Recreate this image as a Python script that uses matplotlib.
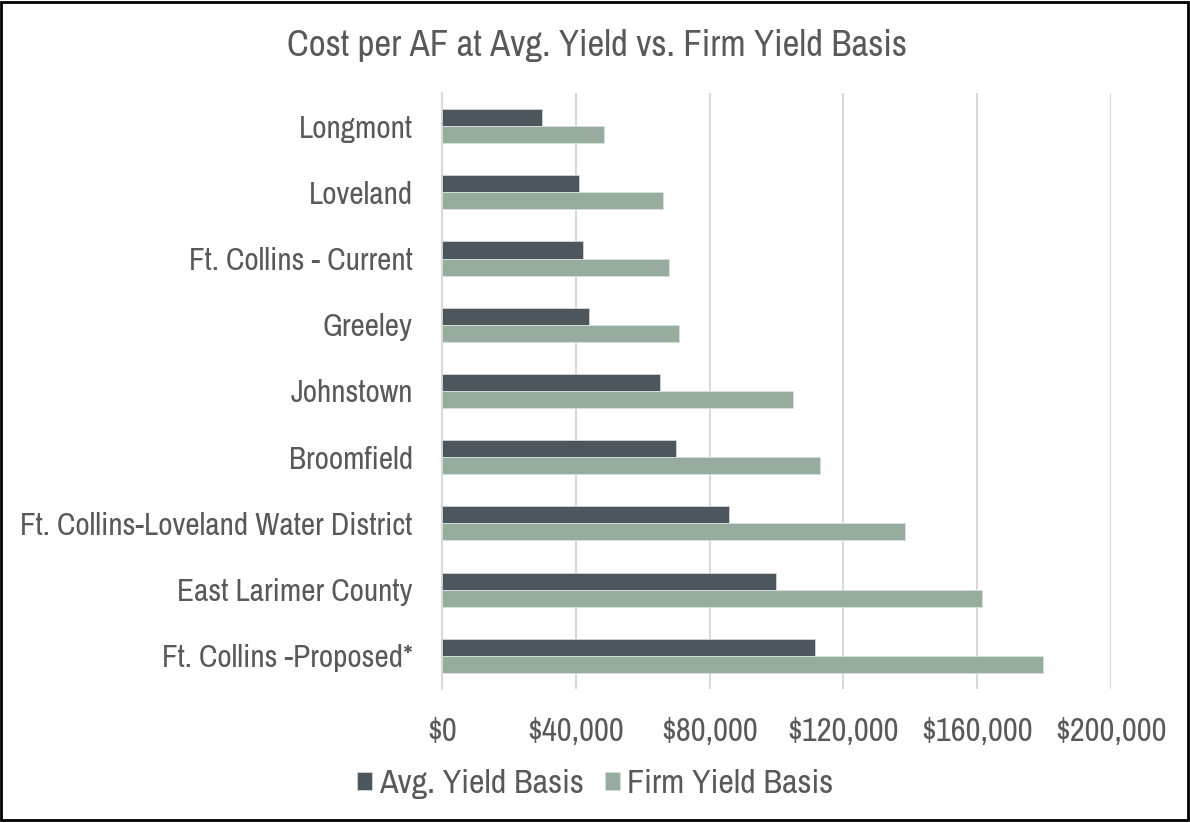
import matplotlib.pyplot as plt
import numpy as np
from matplotlib.patches import Rectangle
from matplotlib.ticker import FuncFormatter

plt.rcParams['font.family'] = ['Archivo Narrow', 'Liberation Sans', 'DejaVu Sans']

cities = ['Longmont', 'Loveland', 'Ft. Collins - Current', 'Greeley', 'Johnstown',
          'Broomfield', 'Ft. Collins-Loveland Water District', 'East Larimer County',
          'Ft. Collins -Proposed*']
avg_yield = [29800, 40900, 42300, 43900, 65100, 70000, 85700, 100000, 111400]
firm_yield = [48500, 66000, 68000, 71000, 104900, 113100, 138500, 161300, 179700]
xticks = [0, 40000, 80000, 120000, 160000, 200000]

text_col = '#595959'
dark = '#4c565c'
light = '#96ac9f'

fig = plt.figure(figsize=(11.9, 8.23), dpi=100)
ax = fig.add_axes([0.3714, 0.163, 0.5622, 0.724])

y = np.arange(len(cities))
h = 0.257
ax.barh(y - h / 2, avg_yield, height=h, color=dark, edgecolor='#d0d4d6', linewidth=0.6,
        label='Avg. Yield Basis', zorder=3)
ax.barh(y + h / 2, firm_yield, height=h, color=light, edgecolor='#d8e0da', linewidth=0.6,
        label='Firm Yield Basis', zorder=3)

ax.set_ylim(len(cities) - 0.5, -0.5)
ax.set_xlim(0, 200000)
ax.set_yticks(y)
ax.set_yticklabels(cities, fontsize=22.5, color=text_col)
ax.set_xticks(xticks)
ax.xaxis.set_major_formatter(FuncFormatter(lambda v, p: '${:,.0f}'.format(v)))
ax.tick_params(axis='x', labelsize=23.5, colors=text_col, length=0, pad=20)
ax.tick_params(axis='y', length=0, pad=21)
ax.grid(axis='x', color='#d9d9d9', linewidth=1.5, zorder=0)
for s in ['top', 'right', 'bottom']:
    ax.spines[s].set_visible(False)
ax.spines['left'].set_color('#d9d9d9')
ax.spines['left'].set_linewidth(1.5)

fig.text(0.502, 0.945, 'Cost per AF at Avg. Yield vs. Firm Yield Basis', ha='center', va='center',
         fontsize=26.5, color=text_col)

fig.legend(loc='center', bbox_to_anchor=(0.5, 0.047), ncol=2, frameon=False, fontsize=24.5,
           handlelength=0.45, handleheight=0.45, handletextpad=0.2, columnspacing=0.6,
           labelcolor=text_col)

fig.patches.append(Rectangle((0.001, 0.004), 0.997, 0.994, transform=fig.transFigure,
                             fill=False, edgecolor='black', linewidth=2))

fig.savefig('out.png', dpi=100)
